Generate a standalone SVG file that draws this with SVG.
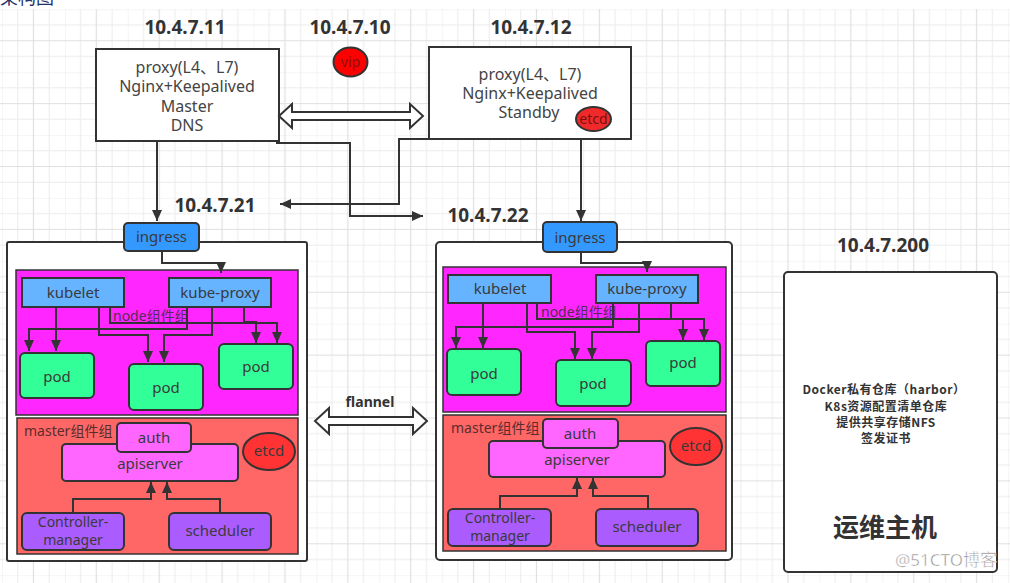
<svg xmlns="http://www.w3.org/2000/svg" width="1010" height="583" viewBox="0 0 1010 583">
<defs>
<pattern id="grid" patternUnits="userSpaceOnUse" x="2" y="9.3" width="62.88" height="62.88">
<path d="M0,0 V62.88 M15.72,0 V62.88 M47.16,0 V62.88 M0,0 H62.88 M0,15.72 H62.88 M0,47.16 H62.88" stroke="#ececec" stroke-width="1" fill="none"/>
<path d="M31.44,0 V62.88 M0,31.44 H62.88" stroke="#e0e0e0" stroke-width="1.2" fill="none"/>
</pattern>
<marker id="ah" markerUnits="userSpaceOnUse" markerWidth="12" markerHeight="10" refX="11" refY="5" orient="auto">
<path d="M0,0 L11,5 L0,10 Z" fill="#333"/>
</marker>
<style>
.t{font-family:"Noto Sans","Noto Sans CJK SC",sans-serif;fill:#3a3a3a;text-anchor:middle}
.ip{font-family:"Noto Sans","Liberation Sans",sans-serif;font-weight:bold;font-size:19px;fill:#333;text-anchor:middle}
.lbl{font-size:15px}
.sm{font-size:14px}
.px{font-size:16px;fill:#444}
.box{stroke:#333;stroke-width:2}
.ln{fill:none;stroke:#333;stroke-width:2}
.ar{fill:none;stroke:#333;stroke-width:2;marker-end:url(#ah)}
.outer{fill:#fff;stroke:#333;stroke-width:2}
.ing{fill:#3399ff}
.kb{fill:#66b3ff}
.pod{fill:#33ff99}
.ng{fill:#ff26ff;stroke:#333;stroke-width:1.5}
.mg{fill:#ff6666;stroke:#333;stroke-width:1.5}
.au{fill:#ff66ff}
.cm{fill:#aa5cff}
.et{fill:#ff3333}
.grp{font-family:"Noto Sans","Noto Sans CJK SC",sans-serif;font-size:14px;text-anchor:start}
.hollow{fill:#fff;stroke:#333;stroke-width:2;stroke-linejoin:miter}
.cn{font-family:"Noto Sans CJK SC",sans-serif;font-weight:bold;fill:#333;text-anchor:middle}
.cs{font-size:12px;letter-spacing:0.5px}
</style>
</defs>
<rect width="1010" height="583" fill="#fff"/>
<rect x="0" y="9" width="1010" height="574" fill="url(#grid)"/>
<text x="0" y="4" font-family="Noto Sans CJK SC, sans-serif" font-size="18" fill="#1f2f6a">架构图</text>

<text class="ip" x="185" y="34">10.4.7.11</text>
<text class="ip" x="350" y="34">10.4.7.10</text>
<text class="ip" x="531" y="34">10.4.7.12</text>
<text class="ip" x="215" y="212">10.4.7.21</text>
<text class="ip" x="488" y="222">10.4.7.22</text>
<text class="ip" x="883" y="252">10.4.7.200</text>

<g id="vip">
<ellipse cx="350.5" cy="62" rx="17" ry="14.5" fill="#ff0000" stroke="#333" stroke-width="2"/>
<text class="t" x="350.5" y="67" font-size="14" style="fill:#8a1010">vip</text>
</g>

<g id="proxy-master">
<rect x="96" y="49" width="183" height="92" fill="#fff" class="box"/>
<text class="t px" x="187" y="73">proxy(L4、L7)</text>
<text class="t px" x="187" y="92">Nginx+Keepalived</text>
<text class="t px" x="187" y="112">Master</text>
<text class="t px" x="187" y="131">DNS</text>
</g>

<g id="proxy-standby">
<rect x="429" y="47" width="202" height="92" fill="#fff" class="box"/>
<text class="t px" x="530" y="80">proxy(L4、L7)</text>
<text class="t px" x="530" y="99">Nginx+Keepalived</text>
<text class="t px" x="529" y="118">Standby</text>
<ellipse cx="593.5" cy="119" rx="17.5" ry="12" fill="#f02a2a" stroke="#333" stroke-width="2"/>
<text class="t" x="593.5" y="124" font-size="14" style="fill:#7a1010">etcd</text>
</g>

<g id="connectors">
<path class="hollow" d="M279,116 L292,104 L292,112 L410,112 L410,104 L423,116 L410,128 L410,120 L292,120 L292,128 Z"/>
<path class="ar" d="M157,141 V221"/>
<path class="ar" d="M581,139 V221"/>
<path class="ar" d="M276,143 H350 V216 H423"/>
<path class="ar" d="M429,139 H399 V204 H280"/>
<path class="hollow" d="M315,421 L329,408 L329,417 L413,417 L413,408 L427,421 L413,434 L413,425 L329,425 L329,434 Z"/>
</g>
<text x="370" y="407" font-family="Noto Sans, Liberation Sans, sans-serif" font-weight="bold" font-size="14" fill="#333" text-anchor="middle">flannel</text>

<g id="node-21">
<rect class="outer" x="7" y="242" width="300" height="319" rx="2"/>
<rect class="ng" x="16" y="270" width="282" height="145"/>
<rect class="mg" x="17" y="418" width="281" height="136"/>
<text class="grp" x="113" y="321" fill="#5a2a5a">node组件组</text>
<text class="grp" x="24" y="436" fill="#5a2d2d">master组件组</text>
</g>
<g id="ingress-21">
<rect class="box ing" x="124" y="223" width="75" height="28" rx="4"/>
<text class="t lbl" x="161.5" y="242">ingress</text>
</g>
<g id="kubelet-21">
<rect class="box kb" x="22" y="278" width="102" height="29"/>
<text class="t lbl" x="73" y="298">kubelet</text>
</g>
<g id="kubeproxy-21">
<rect class="box kb" x="169" y="278" width="102" height="29"/>
<text class="t lbl" x="220" y="298">kube-proxy</text>
</g>
<g id="connectors-21">
<path class="ar" d="M162,251 V263 H221 V273"/>
<path class="ar" d="M56,307 V351"/>
<path class="ar" d="M99,307 V335 H148 V362"/>
<path class="ar" d="M110,307 V323 H277 V343"/>
<path class="ar" d="M187,307 V329 H29 V351"/>
<path class="ar" d="M212,307 V335 H164 V362"/>
<path class="ar" d="M244,307 V322 H256 V343"/>
<path class="ar" d="M73,513 V499 H151 V482"/>
<path class="ar" d="M220,513 V499 H167 V482"/>
</g>
<g id="pod1-21">
<rect class="box pod" x="20" y="353" width="74" height="45" rx="5"/>
<text class="t lbl" x="57" y="382">pod</text>
</g>
<g id="pod2-21">
<rect class="box pod" x="129" y="364" width="74" height="46" rx="5"/>
<text class="t lbl" x="166" y="393">pod</text>
</g>
<g id="pod3-21">
<rect class="box pod" x="219" y="344" width="74" height="45" rx="5"/>
<text class="t lbl" x="256" y="372">pod</text>
</g>
<g id="apiserver-21">
<rect class="box au" x="62" y="444" width="176" height="37" rx="4"/>
<text class="t lbl" x="150" y="469">apiserver</text>
</g>
<g id="auth-21">
<rect class="box au" x="117" y="423" width="74" height="29" rx="4"/>
<text class="t lbl" x="154" y="443">auth</text>
</g>
<g id="etcd-21">
<ellipse class="box et" cx="269" cy="451.5" rx="26" ry="18.5"/>
<text class="t lbl" x="269" y="456">etcd</text>
</g>
<g id="controller-21">
<rect class="box cm" x="22" y="513" width="102" height="37" rx="5"/>
<text class="t sm" x="73" y="527">Controller-</text>
<text class="t sm" x="73" y="544.5">manager</text>
</g>
<g id="scheduler-21">
<rect class="box cm" x="169" y="513" width="102" height="37" rx="5"/>
<text class="t lbl" x="220" y="536">scheduler</text>
</g>

<g id="node-22">
<rect class="outer" x="436" y="242" width="296" height="318" rx="4"/>
<rect class="ng" x="443" y="267" width="283" height="145"/>
<rect class="mg" x="443" y="415" width="283" height="136"/>
<text class="grp" x="541" y="317" fill="#5a2a5a">node组件组</text>
<text class="grp" x="451" y="433" fill="#5a2d2d">master组件组</text>
</g>
<g id="ingress-22">
<rect class="box ing" x="543" y="222" width="74" height="30" rx="4"/>
<text class="t lbl" x="580" y="243">ingress</text>
</g>
<g id="kubelet-22">
<rect class="box kb" x="448" y="275" width="103" height="28"/>
<text class="t lbl" x="500" y="294">kubelet</text>
</g>
<g id="kubeproxy-22">
<rect class="box kb" x="596" y="275" width="102" height="28"/>
<text class="t lbl" x="647" y="294">kube-proxy</text>
</g>
<g id="connectors-22">
<path class="ar" d="M581,252 V263 H647 V272"/>
<path class="ar" d="M483,303 V348"/>
<path class="ar" d="M527,303 V332 H575 V359"/>
<path class="ar" d="M537,303 V319 H704 V340"/>
<path class="ar" d="M613,303 V327 H456 V348"/>
<path class="ar" d="M639,303 V332 H592 V359"/>
<path class="ar" d="M671,303 V319 H683 V340"/>
<path class="ar" d="M500,509 V496 H577 V478"/>
<path class="ar" d="M648,509 V496 H593 V478"/>
</g>
<g id="pod1-22">
<rect class="box pod" x="447" y="349" width="74" height="46" rx="5"/>
<text class="t lbl" x="484" y="379">pod</text>
</g>
<g id="pod2-22">
<rect class="box pod" x="556" y="360" width="75" height="46" rx="5"/>
<text class="t lbl" x="593" y="389">pod</text>
</g>
<g id="pod3-22">
<rect class="box pod" x="646" y="341" width="74" height="45" rx="5"/>
<text class="t lbl" x="683" y="368">pod</text>
</g>
<g id="apiserver-22">
<rect class="box au" x="489" y="441" width="176" height="36" rx="4"/>
<text class="t lbl" x="577" y="465">apiserver</text>
</g>
<g id="auth-22">
<rect class="box au" x="543" y="419" width="75" height="29" rx="4"/>
<text class="t lbl" x="580" y="439">auth</text>
</g>
<g id="etcd-22">
<ellipse class="box et" cx="696" cy="446.5" rx="26" ry="18.5"/>
<text class="t lbl" x="696" y="451">etcd</text>
</g>
<g id="controller-22">
<rect class="box cm" x="448" y="509" width="103" height="37" rx="5"/>
<text class="t sm" x="500" y="523">Controller-</text>
<text class="t sm" x="500" y="540.5">manager</text>
</g>
<g id="scheduler-22">
<rect class="box cm" x="596" y="509" width="102" height="37" rx="5"/>
<text class="t lbl" x="647" y="532">scheduler</text>
</g>

<g id="ops-host">
<rect class="outer" x="784" y="272" width="213" height="300" rx="4"/>
<text class="cn cs" x="884" y="394">Docker私有仓库（harbor）</text>
<text class="cn cs" x="886" y="411">K8s资源配置清单仓库</text>
<text class="cn cs" x="886" y="427">提供共享存储NFS</text>
<text class="cn cs" x="886" y="443">签发证书</text>
<text class="cn" x="885" y="537" font-size="26">运维主机</text>
</g>
<text x="946" y="566" font-family="Noto Sans, Noto Sans CJK SC, sans-serif" font-size="17" fill="#8e8e8e" stroke="#ffffff" stroke-width="0.5" text-anchor="middle">@51CTO博客</text>
</svg>
